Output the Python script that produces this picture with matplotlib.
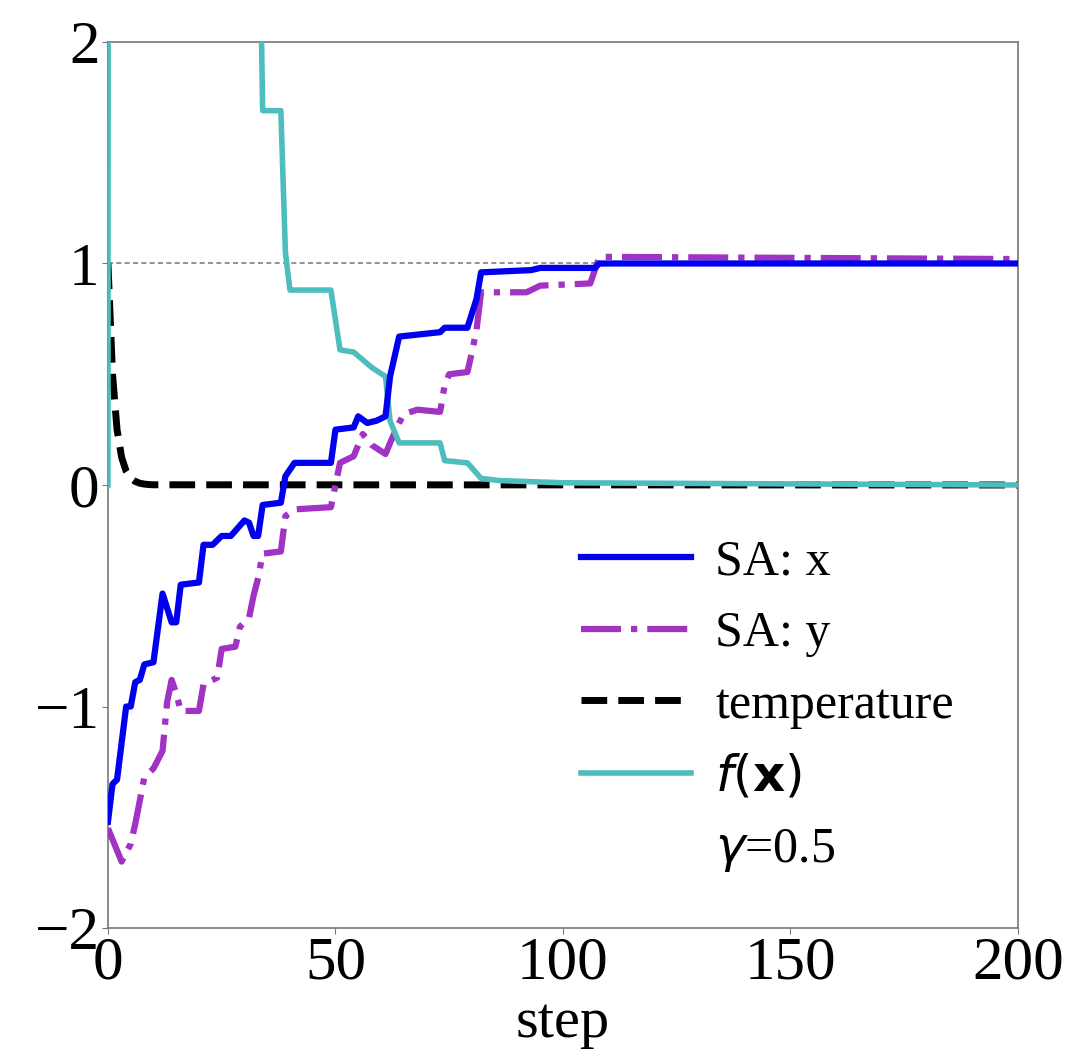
import matplotlib
matplotlib.use("Agg")
import matplotlib.pyplot as plt
from matplotlib.lines import Line2D

plt.rcParams['font.family'] = ['Liberation Serif', 'DejaVu Serif']
plt.rcParams['mathtext.fontset'] = 'dejavusans'

# SA: x  (step, value)
x_steps = [0, 1, 2, 4, 5, 6, 7, 8, 10, 12, 14, 15, 16, 20, 21, 23, 25, 27, 30, 31, 32, 33, 34, 38, 39, 41,
           49, 50, 54, 55, 57, 59, 61, 62, 64, 73, 74, 79, 81, 82, 93, 95, 107, 108, 200]
x_vals = [-1.52, -1.35, -1.33, -1.0, -1.0, -0.89, -0.88, -0.81, -0.80, -0.49, -0.62, -0.62, -0.45, -0.44,
          -0.27, -0.27, -0.23, -0.23, -0.16, -0.17, -0.23, -0.23, -0.09, -0.08, 0.04, 0.10,
          0.10, 0.25, 0.26, 0.31, 0.28, 0.29, 0.31, 0.49, 0.67, 0.69, 0.71, 0.71, 0.84, 0.96, 0.97, 0.98,
          0.98, 1.0, 1.0]

# SA: y
y_steps = [0, 1, 3, 5, 6, 8, 10, 12, 13, 14, 15, 16, 20, 21, 24, 25, 28, 29, 31, 32, 33, 34, 38, 39, 41,
           49, 51, 54, 56, 58, 61, 62, 64, 65, 68, 73, 74, 75, 79, 80, 81, 82, 92, 95, 106, 108, 200]
y_vals = [-1.55, -1.6, -1.7, -1.62, -1.53, -1.32, -1.28, -1.2, -0.98, -0.88, -0.94, -1.02, -1.02, -0.9,
          -0.87, -0.74, -0.73, -0.64, -0.6, -0.5, -0.42, -0.31, -0.30, -0.14, -0.11,
          -0.10, 0.10, 0.13, 0.23, 0.18, 0.14, 0.19, 0.28, 0.32, 0.34, 0.33, 0.45, 0.50, 0.51, 0.60, 0.70,
          0.87, 0.87, 0.90, 0.91, 1.03, 1.02]

# temperature
t_steps = [0, 1, 2, 3, 4, 5, 6, 7, 8, 9, 10, 200]
t_vals = [1.0, 0.5, 0.25, 0.125, 0.0625, 0.031, 0.016, 0.008, 0.004, 0.002, 0.001, 0.0]

# f(x)
f_steps = [0, 1, 33, 34, 38, 39, 40, 49, 51, 54, 58, 61, 62, 64, 73, 74, 79, 82, 86, 100, 200]
f_vals = [0.0, 60.0, 3.0, 1.69, 1.69, 1.05, 0.88, 0.88, 0.61, 0.60, 0.53, 0.49, 0.29, 0.19, 0.19, 0.11,
          0.10, 0.03, 0.02, 0.01, 0.0]

gamma_label = r'$\gamma$=0.5'

fig = plt.figure(figsize=(10.72, 10.6), dpi=100)
ax = fig.add_axes([0.1007, 0.1245, 0.8489, 0.8359])

ax.axhline(1.0, color='gray', lw=1.2, ls=(0, (3, 2)), zorder=1)
l1, = ax.plot(x_steps, x_vals, color='#0000ee', lw=4.5, label='SA: x', zorder=4)
l2, = ax.plot(y_steps, y_vals, color='#a032c4', lw=4.5, ls='-.', label='SA: y', zorder=3)
l3, = ax.plot(t_steps, t_vals, color='black', lw=5, ls='--', label='temperature', zorder=2)
l4, = ax.plot(f_steps, f_vals, color='#4dbdbd', lw=4, label=r'$f(\mathbf{x})$', zorder=3)
extra = Line2D([], [], color='none', label=gamma_label)

ax.set_xlim(0, 200)
ax.set_ylim(-2, 2)
ax.set_xticks([0, 50, 100, 150, 200])
ax.set_yticks([-2, -1, 0, 1, 2])
ax.tick_params(labelsize=44, length=4, color='#777777', pad=2)
ax.set_xlabel('step', fontsize=42, labelpad=4)
for s in ax.spines.values():
    s.set_color('#777777')
    s.set_linewidth(1.2)

ax.legend(handles=[l1, l2, l3, l4, extra], loc='lower right', frameon=False, fontsize=36,
          handlelength=2.2, handletextpad=0.48, labelspacing=0.5,
          bbox_to_anchor=(0.979, 0.01))

fig.savefig('out.png', dpi=100)
